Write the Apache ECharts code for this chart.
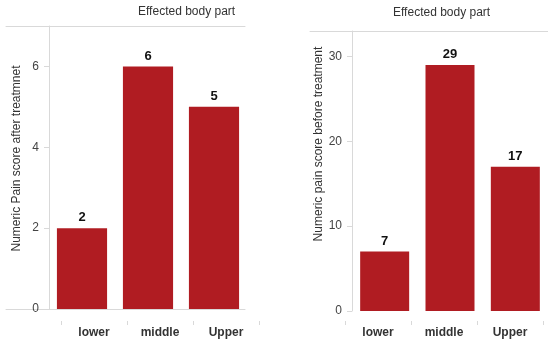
<!DOCTYPE html>
<html>
<head>
<meta charset="utf-8">
<script src="https://cdn.jsdelivr.net/npm/echarts@6/dist/echarts.min.js"></script>
<style>html,body{margin:0;padding:0;background:#fff;}#c{width:548px;height:342px;}</style>
</head>
<body>
<div id="c"></div>
<script>
const categories = ['lower', 'middle', 'Upper'];
const afterScores = [2, 6, 5];
const beforeScores = [7, 29, 17];
const titleText = 'Effected body part';
const afterAxisName = 'Numeric Pain score after treatmnet';
const beforeAxisName = 'Numeric pain score before treatment';

const FONT = '"Liberation Sans", Arial, sans-serif';
const TXT = '#333';
const LINE = '#d9d9d9';
const BAR = '#B01C22';

function mainY(gridIndex, max, interval, name, pad, gap) {
  return {
    gridIndex, type: 'value', min: 0, max, interval,
    name, nameLocation: 'middle', nameGap: gap,
    nameTextStyle: { fontFamily: FONT, fontSize: 12, color: TXT, padding: pad },
    axisLine: { show: true, lineStyle: { color: LINE } },
    axisTick: { show: true, length: 5, lineStyle: { color: LINE } },
    axisLabel: { fontFamily: FONT, fontSize: 12, color: '#444', margin: 10, showMaxLabel: false },
    splitLine: { show: false }
  };
}
function hiddenY(gridIndex) { return { gridIndex, type: 'value', min: 0, max: 1, show: false }; }
function hiddenCat(gridIndex) { return { gridIndex, type: 'category', data: categories, show: false }; }
function labelCat(gridIndex) {
  return {
    gridIndex, type: 'category', data: categories, position: 'bottom',
    axisLine: { show: false, onZero: false },
    axisTick: { show: true, length: 4, lineStyle: { color: LINE } },
    axisLabel: { fontFamily: FONT, fontSize: 12, fontWeight: 'bold', color: TXT, margin: 6 },
    splitLine: { show: false }
  };
}
function lineAxis(gridIndex, position) {
  return {
    gridIndex, type: 'value', min: 0, max: 1, position,
    axisLine: { show: true, onZero: false, lineStyle: { color: LINE, width: 1 } },
    axisTick: { show: false }, axisLabel: { show: false }, splitLine: { show: false }
  };
}
const barLabel = { show: true, position: 'top', distance: 4, fontFamily: FONT, fontSize: 13, fontWeight: 'bold', color: '#111' };

const option = {
  animation: false,
  backgroundColor: '#fff',
  title: [
    { text: titleText, left: 133, top: 1, textStyle: { fontFamily: FONT, fontSize: 12, fontWeight: 'normal', color: TXT } },
    { text: titleText, left: 388, top: 2, textStyle: { fontFamily: FONT, fontSize: 12, fontWeight: 'normal', color: TXT } }
  ],
  grid: [
    { left: 49, width: 198, top: 26, height: 283 },
    { left: 61, width: 198, top: 320, height: 1 },
    { left: 6, width: 239, top: 26, height: 283 },
    { left: 352, width: 198, top: 31, height: 280 },
    { left: 345, width: 198, top: 320, height: 1 },
    { left: 310, width: 238, top: 31, height: 280 }
  ],
  xAxis: [
    hiddenCat(0),
    labelCat(1),
    lineAxis(2, 'top'),
    lineAxis(2, 'bottom'),
    hiddenCat(3),
    labelCat(4),
    lineAxis(5, 'top')
  ],
  yAxis: [
    mainY(0, 7, 2, afterAxisName, [0, 0, 0, 18], 26),
    hiddenY(1),
    hiddenY(2),
    mainY(3, 33, 10, beforeAxisName, [0, 0, 0, 54], 24),
    hiddenY(4),
    hiddenY(5)
  ],
  series: [
    { type: 'bar', xAxisIndex: 0, yAxisIndex: 0, data: afterScores, barCategoryGap: '24%',
      itemStyle: { color: BAR }, label: barLabel },
    { type: 'bar', xAxisIndex: 4, yAxisIndex: 3, data: beforeScores, barCategoryGap: '25%',
      itemStyle: { color: BAR }, label: barLabel }
  ]
};
echarts.init(document.getElementById('c'), null, { renderer: 'canvas' }).setOption(option);
</script>
</body>
</html>
